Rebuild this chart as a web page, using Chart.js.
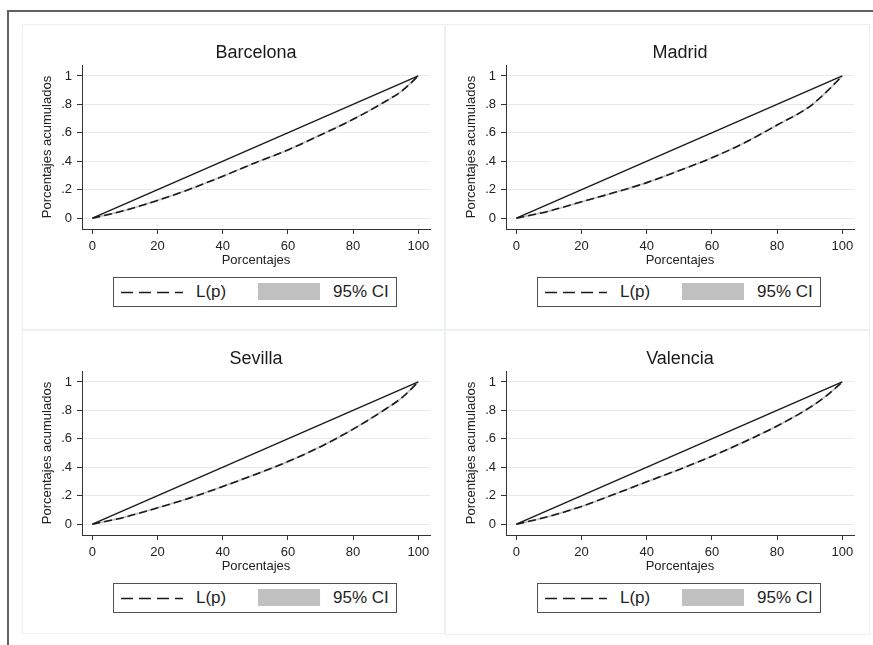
<!DOCTYPE html>
<html>
<head>
<meta charset="utf-8">
<script src="https://cdn.jsdelivr.net/npm/chart.js@4.4.1/dist/chart.umd.min.js"></script>
<style>
html,body{margin:0;padding:0;background:#fff;}
body{width:873px;height:645px;position:relative;overflow:hidden;font-family:"Liberation Sans",Arial,sans-serif;}
.frame{position:absolute;left:7px;top:10px;width:900px;height:700px;border-left:2px solid #616161;border-top:2px solid #616161;}
.panel{position:absolute;border:1px solid #ebf0f0;box-sizing:border-box;}
canvas{position:absolute;}
.legend{position:absolute;width:284px;height:30px;border:1px solid #505050;box-sizing:border-box;background:#fff;}
.legend svg{position:absolute;left:7px;top:13px;}
.legend .lab{position:absolute;font-size:17px;color:#1f1f1f;line-height:20px;top:4px;white-space:nowrap;}
.legend .sw{position:absolute;left:144px;top:5px;width:62px;height:17px;background:#c0c0c0;}
</style>
</head>
<body>
<div class="frame"></div>
<script>
// ---- data ----
const pPoints = [0, 10, 20, 30, 40, 50, 60, 70, 80, 90, 95, 100];
const lorenzBarcelona = [0, 0.055, 0.125, 0.205, 0.295, 0.39, 0.48, 0.585, 0.695, 0.822, 0.895, 1];
const lorenzMadrid    = [0, 0.05, 0.115, 0.18, 0.25, 0.335, 0.425, 0.53, 0.655, 0.785, 0.885, 1];
const lorenzSevilla   = [0, 0.05, 0.115, 0.185, 0.265, 0.35, 0.44, 0.545, 0.668, 0.81, 0.89, 1];
const lorenzValencia  = [0, 0.055, 0.125, 0.21, 0.298, 0.385, 0.478, 0.58, 0.69, 0.82, 0.90, 1];
const equalityP = [0, 100];
const equalityL = [0, 1];
const cityNames = ['Barcelona', 'Madrid', 'Sevilla', 'Valencia'];
const xTickValues = [0, 20, 40, 60, 80, 100];
const yTickValues = [0, 0.2, 0.4, 0.6, 0.8, 1];
const yTickLabels = ['0', '.2', '.4', '.6', '.8', '1'];
const xAxisTitle = 'Porcentajes';
const yAxisTitle = 'Porcentajes acumulados';
const legendLineLabel = 'L(p)';
const legendBandLabel = '95% CI';

// ---- layout ----
const lorenzByCity = [lorenzBarcelona, lorenzMadrid, lorenzSevilla, lorenzValencia];
const canvasPos = [{l:22,t:24},{l:446,t:24},{l:22,t:330},{l:446,t:330}];
const panelBoxes = [{l:22,t:24,w:423,h:306},{l:445,t:24,w:425,h:306},{l:22,t:330,w:423,h:304},{l:445,t:330,w:425,h:305}];
const CW = 423, CH = 244;

Chart.defaults.font.family = '"Liberation Sans", Arial, sans-serif';
Chart.defaults.color = '#222';

panelBoxes.forEach(b => {
  const d = document.createElement('div');
  d.className = 'panel';
  Object.assign(d.style, {left:b.l+'px', top:b.t+'px', width:b.w+'px', height:b.h+'px'});
  document.body.appendChild(d);
});

function pts(xs, ys){ return xs.map((x,i)=>({x:x, y:ys[i]})); }

cityNames.forEach((city, k) => {
  const pos = canvasPos[k];
  const cv = document.createElement('canvas');
  cv.width = CW; cv.height = CH;
  cv.style.left = pos.l + 'px'; cv.style.top = pos.t + 'px';
  cv.style.width = CW + 'px'; cv.style.height = CH + 'px';
  document.body.appendChild(cv);
  const L = lorenzByCity[k];
  new Chart(cv, {
    type: 'line',
    data: {
      datasets: [
        {label:'Equality', data: pts(equalityP, equalityL), borderColor:'#1a1a1a', borderWidth:1.4, pointRadius:0, fill:false},
        {label:legendLineLabel, data: pts(pPoints, L), borderColor:'#1a1a1a', borderWidth:1.6, borderDash:[8,4], pointRadius:0, fill:false, cubicInterpolationMode:'monotone'},
        {label:legendBandLabel, data: pts(pPoints, L), borderColor:'#c4c4c4', borderWidth:1.7, pointRadius:0, fill:false, cubicInterpolationMode:'monotone'}
      ]
    },
    options: {
      responsive:false, animation:false, devicePixelRatio:1,
      layout:{padding:{left:0,right:15,top:0,bottom:0}},
      plugins:{
        legend:{display:false}, tooltip:{enabled:false},
        title:{display:true, text:city, fullSize:false, color:'#1a1a1a', font:{size:18, weight:'normal'}, padding:{top:18.2,bottom:1.2}}
      },
      scales:{
        x:{type:'linear', min:-3.2, max:103.6,
          afterBuildTicks:s=>{ s.ticks = xTickValues.map(v=>({value:v})); },
          afterFit:s=>{ s.height = 39; },
          ticks:{font:{size:13}, color:'#222', padding:5, maxRotation:0, autoSkip:false},
          grid:{drawOnChartArea:false, drawTicks:true, tickLength:5, tickColor:'#333'},
          border:{display:true, color:'#333', width:1},
          title:{display:true, text:xAxisTitle, font:{size:13}, color:'#222', padding:{top:0,bottom:0}}
        },
        y:{type:'linear', min:-0.076, max:1.077,
          afterBuildTicks:s=>{ s.ticks = yTickValues.map(v=>({value:v})); },
          afterFit:s=>{ s.width = 60; },
          ticks:{font:{size:13}, color:'#222', padding:5, autoSkip:false,
                 callback:(v)=>{ const i = yTickValues.findIndex(t=>Math.abs(t-v)<1e-9); return i>=0 ? yTickLabels[i] : ''; }},
          grid:{color:'#e3eced', lineWidth:1, drawTicks:true, tickLength:5, tickColor:'#333'},
          border:{display:true, color:'#333', width:1},
          title:{display:true, text:yAxisTitle, font:{size:13}, color:'#222', padding:{top:18,bottom:0}}
        }
      }
    }
  });

  // legend (HTML)
  const lg = document.createElement('div');
  lg.className = 'legend';
  lg.style.left = (pos.l + 91) + 'px';
  lg.style.top = (pos.t + 253) + 'px';
  lg.innerHTML =
    '<svg width="62" height="3"><line x1="0" y1="1.5" x2="62" y2="1.5" stroke="#1a1a1a" stroke-width="1.6" stroke-dasharray="12,6"/></svg>' +
    '<span class="lab" style="left:82px">' + legendLineLabel + '</span>' +
    '<span class="sw"></span>' +
    '<span class="lab" style="left:219px">' + legendBandLabel + '</span>';
  document.body.appendChild(lg);
});
</script>
</body>
</html>
